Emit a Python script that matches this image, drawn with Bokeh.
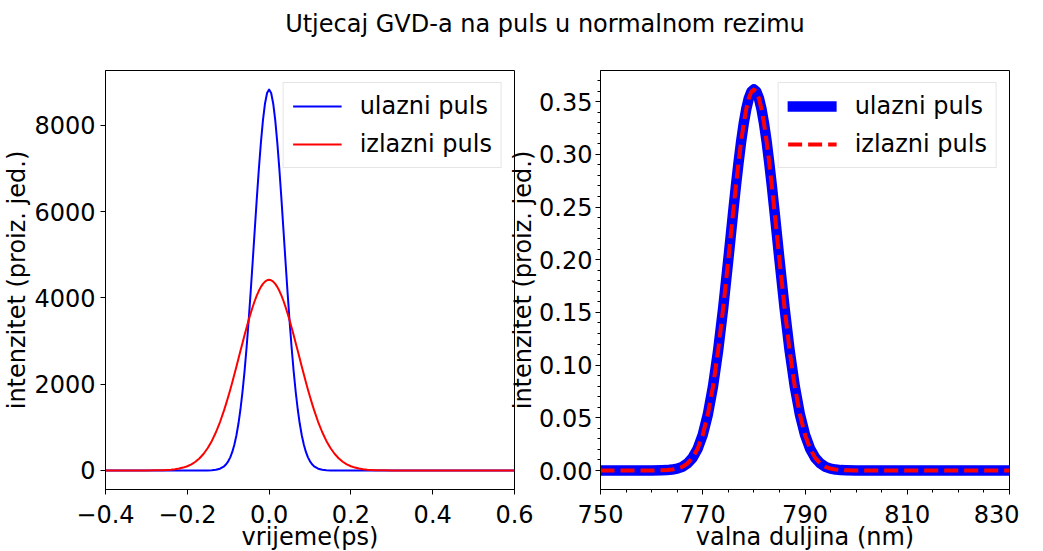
from bokeh.plotting import figure
from bokeh.layouts import row, column
from bokeh.models import Div, FixedTicker, CustomJSTickFormatter, Range1d, PrintfTickFormatter
from bokeh.embed import file_html
from bokeh.resources import INLINE

# ---------------- data ----------------
title_text = "Utjecaj GVD-a na puls u normalnom rezimu"
series_names = ["ulazni puls", "izlazni puls"]

time_ps = [-0.40, -0.30, -0.28, -0.27, -0.26, -0.25, -0.24, -0.23, -0.22, -0.21,
           -0.20, -0.19, -0.18, -0.17, -0.16, -0.15, -0.14, -0.13, -0.12, -0.11,
           -0.105, -0.10, -0.095, -0.09, -0.085, -0.08, -0.075, -0.07, -0.065, -0.06,
           -0.055, -0.05, -0.045, -0.04, -0.035, -0.03, -0.025, -0.02, -0.015, -0.01,
           -0.005, 0.00, 0.005,
           0.01, 0.015, 0.02, 0.025, 0.03, 0.035, 0.04, 0.045, 0.05, 0.055,
           0.06, 0.065, 0.07, 0.075, 0.08, 0.085, 0.09, 0.095, 0.10, 0.105,
           0.11, 0.12, 0.13, 0.14, 0.15, 0.16, 0.17, 0.18, 0.19, 0.20,
           0.21, 0.22, 0.23, 0.24, 0.25, 0.26, 0.27, 0.28, 0.30, 0.40, 0.50, 0.60]

intensity_in = [0, 0, 0, 0, 0, 0, 0, 0, 0, 0,
                0, 0, 0, 0, 0, 2, 6, 16, 41, 97,
                144, 212, 304, 430, 596, 811, 1082, 1419, 1825, 2305,
                2856, 3474, 4148, 4861, 5590, 6312, 6993, 7605, 8119, 8507,
                8748, 8830, 8748,
                8507, 8119, 7605, 6993, 6312, 5590, 4861, 4148, 3474, 2856,
                2305, 1825, 1419, 1082, 811, 596, 430, 304, 212, 144,
                97, 41, 16, 6, 2, 0, 0, 0, 0, 0,
                0, 0, 0, 0, 0, 0, 0, 0, 0, 0, 0, 0]

intensity_out = [0, 1, 3, 4, 7, 12, 18, 29, 44, 67,
                 98, 142, 203, 283, 387, 520, 685, 886, 1123, 1398,
                 1549, 1707, 1873, 2046, 2223, 2404, 2589, 2774, 2957, 3139,
                 3315, 3485, 3646, 3796, 3934, 4058, 4165, 4255, 4326, 4378,
                 4409, 4420, 4409,
                 4378, 4326, 4255, 4165, 4058, 3934, 3796, 3646, 3485, 3315,
                 3139, 2957, 2774, 2589, 2404, 2223, 2046, 1873, 1707, 1549,
                 1398, 1123, 886, 685, 520, 387, 283, 203, 142, 98,
                 67, 44, 29, 18, 12, 7, 4, 3, 1, 0, 0, 0]

wavelength_nm = [750, 760, 762, 763, 764, 765, 766, 767, 768, 769,
                 770, 771, 772, 773, 774, 775, 775.5, 776, 776.5, 777,
                 777.5, 778, 778.5, 779, 779.5, 780, 780.5, 781, 781.5, 782,
                 782.5, 783, 783.5, 784, 784.5, 785, 786, 787, 788, 789,
                 790, 791, 792, 793, 794, 795, 796, 797, 798, 800, 810, 820, 830]

spectrum_in = [0.0, 0.0, 0.0002, 0.0004, 0.0009, 0.0018, 0.0035, 0.0067, 0.0120, 0.0207,
               0.0340, 0.0533, 0.0797, 0.1136, 0.1544, 0.2002, 0.2240, 0.2477, 0.2707, 0.2922,
               0.3119, 0.3289, 0.3428, 0.3531, 0.3594, 0.3615, 0.3594, 0.3531, 0.3428, 0.3289,
               0.3119, 0.2922, 0.2707, 0.2477, 0.2240, 0.2002, 0.1544, 0.1136, 0.0797, 0.0533,
               0.0340, 0.0207, 0.0120, 0.0067, 0.0035, 0.0018, 0.0009, 0.0004, 0.0002, 0.0, 0.0, 0.0, 0.0]

spectrum_out = [0.0, 0.0, 0.0002, 0.0004, 0.0009, 0.0018, 0.0035, 0.0067, 0.0120, 0.0207,
                0.0340, 0.0533, 0.0797, 0.1136, 0.1544, 0.2002, 0.2240, 0.2477, 0.2707, 0.2922,
                0.3119, 0.3289, 0.3428, 0.3531, 0.3594, 0.3615, 0.3594, 0.3531, 0.3428, 0.3289,
                0.3119, 0.2922, 0.2707, 0.2477, 0.2240, 0.2002, 0.1544, 0.1136, 0.0797, 0.0533,
                0.0340, 0.0207, 0.0120, 0.0067, 0.0035, 0.0018, 0.0009, 0.0004, 0.0002, 0.0, 0.0, 0.0, 0.0]

time_ticks = [-0.4, -0.2, 0.0, 0.2, 0.4, 0.6]
intensity_ticks = [0, 2000, 4000, 6000, 8000]
wl_ticks = [750, 770, 790, 810, 830]
wl_minor = [750, 755, 760, 765, 770, 775, 780, 785, 790, 795, 800, 805, 810, 815, 820, 825, 830]
spec_ticks = [0.0, 0.05, 0.10, 0.15, 0.20, 0.25, 0.30, 0.35]
spec_minor = [0.0, 0.01, 0.02, 0.03, 0.04, 0.05, 0.06, 0.07, 0.08, 0.09, 0.10, 0.11, 0.12,
              0.13, 0.14, 0.15, 0.16, 0.17, 0.18, 0.19, 0.20, 0.21, 0.22, 0.23, 0.24, 0.25,
              0.26, 0.27, 0.28, 0.29, 0.30, 0.31, 0.32, 0.33, 0.34, 0.35, 0.36, 0.37]

x_label_left = "vrijeme(ps)"
x_label_right = "valna duljina (nm)"
y_label = "intenzitet (proiz. jed.)"

# ---------------- styling ----------------
FONT = "DejaVu Sans"
FS = "24px"
BLUE = "#0000ff"
RED = "#ff0000"


def style(p, y_standoff, y_label_standoff):
    p.outline_line_color = "black"
    p.outline_line_width = 1
    p.outline_line_alpha = 1
    p.xgrid.visible = False
    p.ygrid.visible = False
    p.background_fill_color = "white"
    for ax in (p.xaxis[0], p.yaxis[0]):
        ax.axis_line_color = "black"
        ax.major_tick_line_color = "black"
        ax.minor_tick_line_color = None
        ax.major_tick_in = 0
        ax.major_tick_out = 5
        ax.major_label_text_font = FONT
        ax.major_label_text_font_size = FS
        ax.major_label_text_color = "black"
        ax.axis_label_text_font = FONT
        ax.axis_label_text_font_size = FS
        ax.axis_label_text_font_style = "normal"
        ax.axis_label_text_color = "black"
    p.xaxis[0].major_label_standoff = 10
    p.xaxis[0].axis_label_standoff = -3
    p.yaxis[0].major_label_standoff = y_standoff
    p.yaxis[0].axis_label_standoff = y_label_standoff


def style_legend(p):
    lg = p.legend[0]
    lg.location = "top_right"
    lg.margin = 12
    lg.padding = 9
    lg.spacing = 10
    lg.glyph_width = 49
    lg.glyph_height = 24
    lg.label_standoff = 18
    lg.label_text_font = FONT
    lg.label_text_font_size = FS
    lg.label_text_color = "black"
    lg.border_line_color = "#cccccc"
    lg.border_line_width = 1
    lg.background_fill_alpha = 0.8


minus = "\u2212"
time_fmt = CustomJSTickFormatter(code="return (tick < -1e-9 ? '" + minus + "' : '') + Math.abs(tick).toFixed(1);")

FIG_H = 513

# ---------------- left: time domain ----------------
p1 = figure(width=534, height=FIG_H, x_range=Range1d(-0.4, 0.6), y_range=Range1d(-441, 9271),
            output_backend="svg", toolbar_location=None,
            min_border_left=100, min_border_right=20, min_border_top=30, min_border_bottom=61)
style(p1, 5, 0)
p1.border_fill_color = "white"
p1.line(time_ps, intensity_in, color=BLUE, line_width=2, line_join="round",
        legend_label=series_names[0])
p1.line(time_ps, intensity_out, color=RED, line_width=2, line_join="round",
        legend_label=series_names[1])
p1.xaxis.ticker = FixedTicker(ticks=time_ticks)
p1.xaxis.formatter = time_fmt
p1.yaxis.ticker = FixedTicker(ticks=intensity_ticks)
p1.xaxis.axis_label = x_label_left
p1.yaxis.axis_label = y_label
style_legend(p1)

# ---------------- right: spectrum ----------------
p2 = figure(width=513, height=FIG_H, x_range=Range1d(750, 830), y_range=Range1d(-0.018, 0.3796),
            output_backend="svg", toolbar_location=None,
            min_border_left=90, min_border_right=10, min_border_top=30, min_border_bottom=61)
style(p2, 3, -1)
p2.border_fill_alpha = 0
p2.margin = (0, 0, 0, -28)
p2.line(wavelength_nm, spectrum_in, color=BLUE, line_width=10.5, line_join="round",
        line_cap="square", legend_label=series_names[0])
p2.line(wavelength_nm, spectrum_out, color=RED, line_width=4, line_dash="14 6",
        line_join="round", legend_label=series_names[1])
p2.xaxis.ticker = FixedTicker(ticks=wl_ticks, minor_ticks=wl_minor)
p2.yaxis.ticker = FixedTicker(ticks=spec_ticks, minor_ticks=spec_minor)
p2.yaxis.formatter = PrintfTickFormatter(format="%.2f")
for ax in (p2.xaxis[0], p2.yaxis[0]):
    ax.minor_tick_line_color = "black"
    ax.minor_tick_in = 0
    ax.minor_tick_out = 3
p2.xaxis.axis_label = x_label_right
p2.yaxis.axis_label = y_label
style_legend(p2)

title = Div(text='<div style="width:1019px;box-sizing:border-box;padding-left:61px;padding-top:17px;'
                 'text-align:center;font-family:\'DejaVu Sans\';font-size:24px;'
                 'line-height:21px;color:black;margin:0;">' + title_text + '</div>',
            width=1019, height=38)

layout = column(title, row(p1, p2), margin=(-8, 0, -8, 0))
open("out.html", "w").write(file_html(layout, INLINE))
